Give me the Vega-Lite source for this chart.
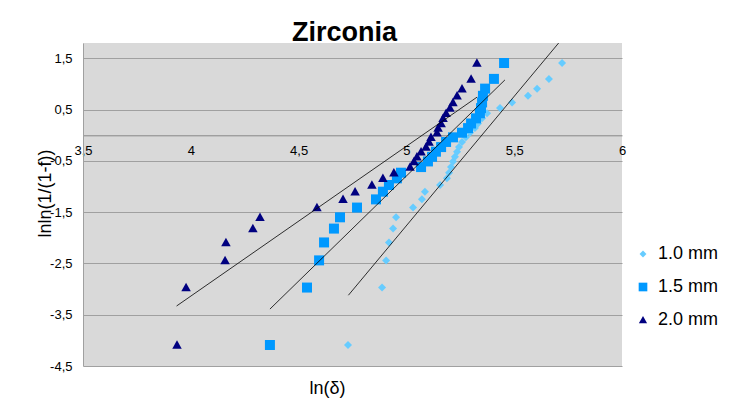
{
  "$schema": "https://vega.github.io/schema/vega-lite/v6.json",
  "width": 539,
  "height": 323,
  "autosize": {"type": "none"},
  "padding": {"left": 83, "top": 43, "right": 115, "bottom": 35},
  "background": "white",
  "config": {
    "font": "Liberation Sans",
    "view": {"fill": "#d9d9d9", "stroke": null}
  },
  "title": {
    "text": "Zirconia",
    "fontSize": 27,
    "fontWeight": "bold",
    "color": "#000000",
    "anchor": "middle",
    "dx": -8,
    "dy": 29,
    "baseline": "alphabetic",
    "offset": 4
  },
  "datasets": {
    "points": [
      {"s": "1.0 mm", "x": 4.729, "y": -4.09},
      {"s": "1.0 mm", "x": 4.887, "y": -2.97},
      {"s": "1.0 mm", "x": 4.906, "y": -2.44},
      {"s": "1.0 mm", "x": 4.919, "y": -2.09},
      {"s": "1.0 mm", "x": 4.938, "y": -1.82},
      {"s": "1.0 mm", "x": 4.952, "y": -1.60},
      {"s": "1.0 mm", "x": 5.031, "y": -1.41},
      {"s": "1.0 mm", "x": 5.072, "y": -1.25},
      {"s": "1.0 mm", "x": 5.086, "y": -1.10},
      {"s": "1.0 mm", "x": 5.156, "y": -0.97},
      {"s": "1.0 mm", "x": 5.188, "y": -0.84},
      {"s": "1.0 mm", "x": 5.198, "y": -0.73},
      {"s": "1.0 mm", "x": 5.207, "y": -0.62},
      {"s": "1.0 mm", "x": 5.216, "y": -0.51},
      {"s": "1.0 mm", "x": 5.225, "y": -0.42},
      {"s": "1.0 mm", "x": 5.235, "y": -0.32},
      {"s": "1.0 mm", "x": 5.244, "y": -0.23},
      {"s": "1.0 mm", "x": 5.258, "y": -0.13},
      {"s": "1.0 mm", "x": 5.276, "y": -0.04},
      {"s": "1.0 mm", "x": 5.295, "y": 0.05},
      {"s": "1.0 mm", "x": 5.318, "y": 0.14},
      {"s": "1.0 mm", "x": 5.332, "y": 0.23},
      {"s": "1.0 mm", "x": 5.351, "y": 0.33},
      {"s": "1.0 mm", "x": 5.374, "y": 0.43},
      {"s": "1.0 mm", "x": 5.434, "y": 0.53},
      {"s": "1.0 mm", "x": 5.490, "y": 0.64},
      {"s": "1.0 mm", "x": 5.564, "y": 0.77},
      {"s": "1.0 mm", "x": 5.606, "y": 0.91},
      {"s": "1.0 mm", "x": 5.661, "y": 1.10},
      {"s": "1.0 mm", "x": 5.722, "y": 1.41},
      {"s": "1.5 mm", "x": 4.367, "y": -4.09},
      {"s": "1.5 mm", "x": 4.539, "y": -2.97},
      {"s": "1.5 mm", "x": 4.595, "y": -2.44},
      {"s": "1.5 mm", "x": 4.618, "y": -2.09},
      {"s": "1.5 mm", "x": 4.664, "y": -1.82},
      {"s": "1.5 mm", "x": 4.692, "y": -1.60},
      {"s": "1.5 mm", "x": 4.771, "y": -1.41},
      {"s": "1.5 mm", "x": 4.859, "y": -1.25},
      {"s": "1.5 mm", "x": 4.891, "y": -1.10},
      {"s": "1.5 mm", "x": 4.919, "y": -0.97},
      {"s": "1.5 mm", "x": 4.956, "y": -0.84},
      {"s": "1.5 mm", "x": 4.975, "y": -0.73},
      {"s": "1.5 mm", "x": 5.068, "y": -0.62},
      {"s": "1.5 mm", "x": 5.100, "y": -0.51},
      {"s": "1.5 mm", "x": 5.119, "y": -0.42},
      {"s": "1.5 mm", "x": 5.137, "y": -0.32},
      {"s": "1.5 mm", "x": 5.161, "y": -0.23},
      {"s": "1.5 mm", "x": 5.184, "y": -0.13},
      {"s": "1.5 mm", "x": 5.216, "y": -0.04},
      {"s": "1.5 mm", "x": 5.258, "y": 0.05},
      {"s": "1.5 mm", "x": 5.286, "y": 0.14},
      {"s": "1.5 mm", "x": 5.300, "y": 0.23},
      {"s": "1.5 mm", "x": 5.323, "y": 0.33},
      {"s": "1.5 mm", "x": 5.341, "y": 0.43},
      {"s": "1.5 mm", "x": 5.346, "y": 0.53},
      {"s": "1.5 mm", "x": 5.351, "y": 0.64},
      {"s": "1.5 mm", "x": 5.355, "y": 0.77},
      {"s": "1.5 mm", "x": 5.365, "y": 0.91},
      {"s": "1.5 mm", "x": 5.406, "y": 1.10},
      {"s": "1.5 mm", "x": 5.453, "y": 1.41},
      {"s": "2.0 mm", "x": 3.936, "y": -4.09},
      {"s": "2.0 mm", "x": 3.978, "y": -2.97},
      {"s": "2.0 mm", "x": 4.159, "y": -2.44},
      {"s": "2.0 mm", "x": 4.163, "y": -2.09},
      {"s": "2.0 mm", "x": 4.288, "y": -1.82},
      {"s": "2.0 mm", "x": 4.321, "y": -1.60},
      {"s": "2.0 mm", "x": 4.585, "y": -1.41},
      {"s": "2.0 mm", "x": 4.706, "y": -1.25},
      {"s": "2.0 mm", "x": 4.762, "y": -1.10},
      {"s": "2.0 mm", "x": 4.840, "y": -0.97},
      {"s": "2.0 mm", "x": 4.891, "y": -0.84},
      {"s": "2.0 mm", "x": 4.942, "y": -0.73},
      {"s": "2.0 mm", "x": 5.017, "y": -0.62},
      {"s": "2.0 mm", "x": 5.035, "y": -0.51},
      {"s": "2.0 mm", "x": 5.049, "y": -0.42},
      {"s": "2.0 mm", "x": 5.068, "y": -0.32},
      {"s": "2.0 mm", "x": 5.091, "y": -0.23},
      {"s": "2.0 mm", "x": 5.105, "y": -0.13},
      {"s": "2.0 mm", "x": 5.114, "y": -0.04},
      {"s": "2.0 mm", "x": 5.142, "y": 0.05},
      {"s": "2.0 mm", "x": 5.147, "y": 0.14},
      {"s": "2.0 mm", "x": 5.161, "y": 0.23},
      {"s": "2.0 mm", "x": 5.170, "y": 0.33},
      {"s": "2.0 mm", "x": 5.184, "y": 0.43},
      {"s": "2.0 mm", "x": 5.202, "y": 0.53},
      {"s": "2.0 mm", "x": 5.216, "y": 0.64},
      {"s": "2.0 mm", "x": 5.235, "y": 0.77},
      {"s": "2.0 mm", "x": 5.258, "y": 0.91},
      {"s": "2.0 mm", "x": 5.300, "y": 1.10},
      {"s": "2.0 mm", "x": 5.327, "y": 1.41}
    ],
    "trends": [
      {"s": "1.0 mm", "x": 4.731, "y": -3.12},
      {"s": "1.0 mm", "x": 5.722, "y": 1.88},
      {"s": "1.5 mm", "x": 4.367, "y": -3.39},
      {"s": "1.5 mm", "x": 5.457, "y": 1.08},
      {"s": "2.0 mm", "x": 3.934, "y": -3.33},
      {"s": "2.0 mm", "x": 5.328, "y": 0.745}
    ]
  },
  "layer": [
    {
      "data": {"name": "points"},
      "mark": {"type": "point", "filled": true, "opacity": 1, "size": 100, "strokeWidth": 0},
      "encoding": {
        "x": {
          "field": "x", "type": "quantitative",
          "scale": {"domain": [3.5, 6], "nice": false, "zero": false},
          "axis": {
            "orient": "bottom",
            "offset": -230.7,
            "values": [3.5, 4, 4.5, 5, 5.5, 6],
            "labelExpr": "replace(datum.value + '', '.', ',')",
            "grid": false,
            "ticks": false,
            "domainColor": "#868686",
            "domainWidth": 1,
            "labelFontSize": 13,
            "labelColor": "#000000",
            "labelPadding": 9,
            "labelFlush": false,
            "labelOverlap": false,
            "labelBound": false,
            "title": "ln(δ)",
            "titleFontSize": 18,
            "titleFontWeight": "normal",
            "titleColor": "#000000",
            "titleX": 244,
            "titleY": 253,
            "titleAlign": "center",
            "titleBaseline": "middle"
          }
        },
        "y": {
          "field": "y", "type": "quantitative",
          "scale": {"domain": [-4.5, 1.8], "nice": false, "zero": false},
          "axis": {
            "values": [-4.5, -3.5, -2.5, -1.5, -0.5, 0.5, 1.5],
            "labelExpr": "(datum.value < 0 ? '-' : '') + replace(format(abs(datum.value), '.1f'), '.', ',')",
            "grid": true,
            "gridColor": "#a0a0a0",
            "gridWidth": 1,
            "ticks": false,
            "domainColor": "#a0a0a0",
            "labelFontSize": 13,
            "labelColor": "#000000",
            "labelPadding": 11,
            "labelFlush": false,
            "labelOverlap": false,
            "labelBound": false,
            "title": "lnln(1/(1-f))",
            "titleFontSize": 18,
            "titleFontWeight": "normal",
            "titleColor": "#000000",
            "titleX": -38,
            "titleY": 150,
            "titleAngle": -90,
            "titleAlign": "center",
            "titleBaseline": "middle"
          }
        },
        "color": {
          "field": "s", "type": "nominal",
          "scale": {"domain": ["1.0 mm", "1.5 mm", "2.0 mm"], "range": ["#66ccff", "#0099ff", "#000080"]},
          "legend": {
            "title": null,
            "orient": "none",
            "legendX": 551,
            "legendY": 202,
            "padding": 0,
            "rowPadding": 15,
            "labelFontSize": 18,
            "labelColor": "#000000",
            "labelOffset": 6,
            "symbolSize": 75,
            "symbolStrokeWidth": 0
          }
        },
        "shape": {
          "field": "s", "type": "nominal",
          "scale": {
            "domain": ["1.0 mm", "1.5 mm", "2.0 mm"],
            "range": [
              "M0,-0.8L0.8,0L0,0.8L-0.8,0Z",
              "M-1,-1L1,-1L1,1L-1,1Z",
              "M0,-0.95L0.95,0.75L-0.95,0.75Z"
            ]
          },
          "legend": {
            "title": null,
            "orient": "none",
            "legendX": 551,
            "legendY": 202,
            "padding": 0,
            "rowPadding": 15,
            "labelFontSize": 18,
            "labelColor": "#000000",
            "labelOffset": 6,
            "symbolSize": 75,
            "symbolStrokeWidth": 0
          }
        }
      }
    },
    {
      "data": {"name": "trends"},
      "mark": {"type": "line", "clip": true, "color": "#000000", "strokeWidth": 0.8},
      "encoding": {
        "x": {"field": "x", "type": "quantitative", "scale": {"domain": [3.5, 6], "nice": false, "zero": false}},
        "y": {"field": "y", "type": "quantitative", "scale": {"domain": [-4.5, 1.8], "nice": false, "zero": false}},
        "detail": {"field": "s"}
      }
    }
  ]
}
